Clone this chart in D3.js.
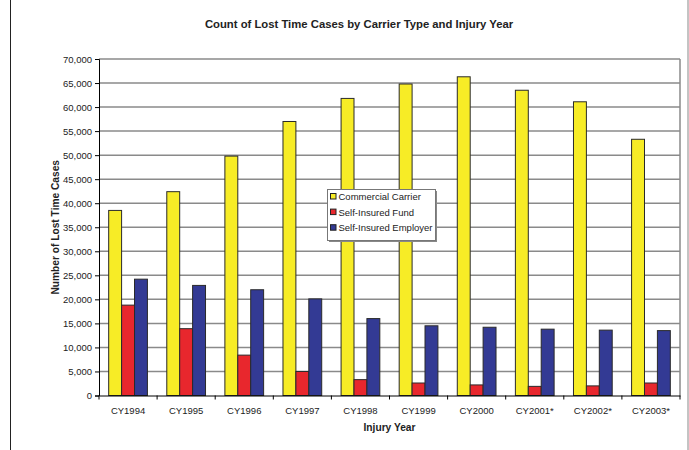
<!DOCTYPE html>
<html><head><meta charset="utf-8">
<script src="https://cdn.jsdelivr.net/npm/d3@7"></script>
<style>body{margin:0;background:#fff;}svg{display:block;font-family:"Liberation Sans",Arial,sans-serif;}</style>
</head><body>
<svg id="c" width="689" height="450"></svg>
<script>
const categories = ["CY1994","CY1995","CY1996","CY1997","CY1998","CY1999","CY2000","CY2001*","CY2002*","CY2003*"];
const seriesNames = ["Commercial Carrier","Self-Insured Fund","Self-Insured Employer"];
const commercialCarrier = [38500,42400,49800,57000,61800,64800,66300,63500,61100,53300];
const selfInsuredFund = [18800,13900,8400,5000,3300,2600,2200,1900,2000,2600];
const selfInsuredEmployer = [24200,22900,22000,20100,16000,14500,14200,13800,13600,13500];
const yTicks = [0,5000,10000,15000,20000,25000,30000,35000,40000,45000,50000,55000,60000,65000,70000];
const colors = ["#F7EC26","#E8272D","#333A94"];
const series = [commercialCarrier, selfInsuredFund, selfInsuredEmployer];

const svg = d3.select("#c");
const L = 99, R = 680, T = 59, B = 395.5;

// frame
svg.append("line").attr("x1",10.5).attr("x2",10.5).attr("y1",0).attr("y2",450).attr("stroke","#222").attr("stroke-width",1);
svg.append("line").attr("x1",688).attr("x2",688).attr("y1",0).attr("y2",450).attr("stroke","#888").attr("stroke-width",1);

const x0 = d3.scaleBand().domain(categories).range([L, R]).paddingInner(0).paddingOuter(0);
const bw = x0.bandwidth()/4.5;
const x1 = d3.scaleBand().domain(seriesNames).range([bw*0.75, bw*3.75]);
const y = d3.scaleLinear().domain([0,70000]).range([B, T]);

// grid
svg.append("g").selectAll("line").data(yTicks.filter(d=>d>0)).join("line")
  .attr("x1",L).attr("x2",R).attr("y1",d=>y(d)).attr("y2",d=>y(d))
  .attr("stroke","#8a8a8a").attr("stroke-width",1.5);
svg.append("line").attr("x1",R).attr("x2",R).attr("y1",T).attr("y2",B).attr("stroke","#8a8a8a").attr("stroke-width",1.5);

// bars
const g = svg.append("g");
series.forEach((vals,si)=>{
  g.append("g").selectAll("rect").data(vals).join("rect")
    .attr("x",(d,i)=>x0(categories[i]) + x1(seriesNames[si]))
    .attr("y",d=>y(d))
    .attr("width",x1.bandwidth())
    .attr("height",d=>B - y(d))
    .attr("fill",colors[si]).attr("stroke","#2a2a2a").attr("stroke-width",1);
});

// y axis
const yAxis = d3.axisLeft(y).tickValues(yTicks).tickSize(4).tickPadding(3).tickFormat(d3.format(","));
const ya = svg.append("g").attr("transform",`translate(${L},0)`).call(yAxis);
ya.select(".domain").attr("stroke","#000");
ya.selectAll(".tick line").attr("stroke","#000");
ya.selectAll("text").attr("font-size","9.5px").attr("fill","#222").attr("font-family","Liberation Sans, Arial, sans-serif");

// x axis
const xAxis = d3.axisBottom(x0).tickSize(0).tickPadding(12);
const xa = svg.append("g").attr("transform",`translate(0,${B})`).call(xAxis);
xa.select(".domain").attr("stroke","#000");
xa.selectAll("text").attr("font-size","9.5px").attr("fill","#222").attr("font-family","Liberation Sans, Arial, sans-serif");
// ticks at category boundaries
const bounds = categories.map(c=>x0(c)).concat([R]);
xa.append("g").selectAll("line").data(bounds).join("line")
  .attr("x1",d=>d).attr("x2",d=>d).attr("y1",0).attr("y2",4).attr("stroke","#000");

// titles
svg.append("text").attr("x",359).attr("y",28).attr("text-anchor","middle")
  .attr("font-size","11.3px").attr("font-weight","bold").attr("fill","#222")
  .text("Count of Lost Time Cases by Carrier Type and Injury Year");
svg.append("text").attr("x",(L+R)/2).attr("y",430.5).attr("text-anchor","middle")
  .attr("font-size","10.2px").attr("font-weight","bold").attr("fill","#222").text("Injury Year");
svg.append("text").attr("transform",`translate(58.5,${(T+B)/2}) rotate(-90)`).attr("text-anchor","middle")
  .attr("font-size","10.2px").attr("font-weight","bold").attr("fill","#222").text("Number of Lost Time Cases");

// legend
const lg = svg.append("g");
lg.append("rect").attr("x",329).attr("y",191).attr("width",108).attr("height",51).attr("fill","#888");
lg.append("rect").attr("x",327.5).attr("y",189.5).attr("width",108).attr("height",51).attr("fill","#fff").attr("stroke","#777").attr("stroke-width",1);
seriesNames.forEach((n,i)=>{
  const yy = 193.5 + i*15.6;
  lg.append("rect").attr("x",330.5).attr("y",yy).attr("width",5.5).attr("height",5.5)
    .attr("fill",colors[i]).attr("stroke","#222").attr("stroke-width",1);
  lg.append("text").attr("x",338.5).attr("y",yy+6.5).attr("font-size","9.5px").attr("fill","#222").text(n);
});
</script>
</body></html>
